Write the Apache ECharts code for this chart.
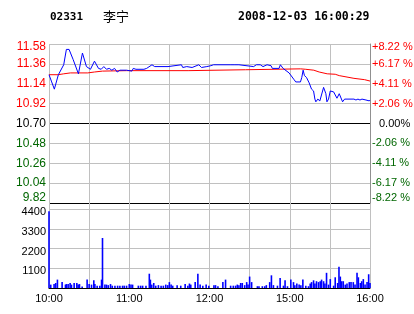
<!DOCTYPE html>
<html><head><meta charset="utf-8">
<script src="https://cdn.jsdelivr.net/npm/echarts@6/dist/echarts.min.js"></script>
<style>html,body{margin:0;padding:0;background:#fff}#c{width:414px;height:314px}</style>
</head><body><div id="c"></div>
<script>
const stockCode = '02331';
const stockName = '李宁';
const timestamp = '2008-12-03 16:00:29';
const prevClose = 10.70;
const timeLabels = {0:'10:00', 60:'11:00', 120:'12:00', 180:'15:00', 240:'16:00'};

// trading minutes since 10:00 (lunch break removed)
const priceMinutes = [0,2,4,7,11,13,15,18,22,25,28,31,34,35,37,39,41,43,45,47,49,51,53,58,62,63,65,71,73,77,79,89,90,99,100,103,107,112,114,118,121,123,136,137,139,140,142,143,153,155,156,158,160,163,166,167,172,173,175,176,179.5,183,184.5,188,189,190,191,192.5,194.5,196.3,197.8,198.8,199.5,201,202.5,203.5,205.3,206,207,207.8,209,210.3,211.3,212.8,213.8,215.3,217,218.3,219.5,221,228,229.5,231,232.5,234,237,239.5,240];
const priceValues  = [11.24,11.16,11.08,11.24,11.35,11.52,11.52,11.41,11.25,11.48,11.33,11.30,11.39,11.40,11.31,11.30,11.33,11.30,11.31,11.29,11.31,11.27,11.29,11.29,11.28,11.31,11.30,11.30,11.31,11.35,11.33,11.33,11.35,11.35,11.32,11.33,11.32,11.35,11.32,11.33,11.34,11.35,11.35,11.33,11.35,11.33,11.35,11.33,11.33,11.35,11.34,11.35,11.33,11.35,11.34,11.31,11.31,11.35,11.31,11.30,11.26,11.19,11.16,11.16,11.21,11.29,11.23,11.21,11.15,11.08,11.06,10.97,10.94,10.97,10.95,10.96,11.10,11.08,11.03,10.94,10.97,11.06,11.04,11.05,11.03,10.98,11.03,11.04,10.94,10.97,10.97,10.96,10.97,10.96,10.97,10.96,10.95,10.96];

const avgMinutes = [0,7,9,11,16,29,34,40,58,104,105,147,148,188,192,198,202,208,214,217,228,236,240];
const avgValues  = [11.24,11.24,11.245,11.25,11.26,11.26,11.27,11.28,11.285,11.285,11.295,11.295,11.305,11.305,11.30,11.29,11.27,11.25,11.245,11.23,11.20,11.185,11.17];

const volMinutes = [0,1.3,3.8,5,6.3,9.8,12.3,13,14.3,15.8,16.8,18.8,20.8,21.8,22.8,24.8,28.5,30,31.8,33.5,34.3,36,38,39.3,40,41.8,43,44.3,46,47.3,49.3,51.3,53,55,56.3,58,60,61.3,62.5,66.8,68.5,70,72.5,75,75.8,76.8,78.3,79.8,81.8,83.8,85.5,87.3,88.8,90,91.3,92.5,95.8,98.5,101.8,103.8,105,106,109.3,111.3,113,115,117.5,119.5,123.3,124.5,126.3,130,132,135.8,137.8,139.5,140.8,142,143.3,144.5,146.3,147.8,148.8,150,151.5,155.8,157,159.5,161.3,162.5,165,166.3,167.8,170.8,172.8,175.3,176.5,178.3,180.8,182.8,183.8,185.3,187,188.3,189.8,192,194,195.3,196.3,197.8,198.8,200,201.5,202.8,203.8,205.3,206.3,207.5,209,210.3,212.8,214,215.8,216.8,217.8,218.8,220,221.5,222.8,224.5,225.8,227.5,228.8,230.3,231.3,232.8,233.8,235,236.3,237.8,239,240];
const volValues  = [4300,190,220,280,470,330,190,220,220,280,190,280,280,190,220,90,470,220,190,430,220,130,130,470,2800,190,190,160,220,130,130,130,130,130,130,130,220,190,190,130,130,130,130,800,470,190,280,130,160,130,130,190,160,330,190,130,160,130,220,130,250,190,330,800,190,130,190,130,160,160,100,330,470,130,130,130,190,160,280,280,160,330,190,640,330,100,100,100,100,160,330,710,160,130,560,130,430,100,470,330,160,250,190,160,480,130,100,250,330,430,250,380,330,380,470,380,250,850,190,500,130,600,280,1190,640,380,380,190,250,330,330,330,190,850,600,280,380,500,190,330,770,280];

const RED = '#ff0000', GREEN = '#006600', BLACK = '#000000', GRAY = '#c0c0c0';
const LF = 'Liberation Sans';

const chg = v => +(v - prevClose).toFixed(4);
const priceData = priceMinutes.map((m, i) => [m, chg(priceValues[i])]);
const avgData = avgMinutes.map((m, i) => [m, chg(avgValues[i])]);
const volData = volMinutes.map((m, i) => [m, volValues[i]]);

const isZero = v => Math.abs(v) < 1e-9;
const richBase = (c, pad, fs) => ({color: c, fontFamily: LF, fontSize: fs || 12, padding: pad || [0,0,0,0]});

const chart = echarts.init(document.getElementById('c'), null, {renderer: 'canvas'});
chart.setOption({
  animation: false,
  backgroundColor: '#fff',
  graphic: [
    {type: 'text', x: 50, y: 17, style: {text: stockCode, font: 'bold 11px "DejaVu Sans Mono"', fill: '#000', verticalAlign: 'middle'}},
    {type: 'text', x: 103, y: 16, style: {text: stockName, font: '13px "Noto Sans CJK SC"', fill: '#000', verticalAlign: 'middle'}},
    {type: 'text', x: 238, y: 17, style: {text: timestamp, font: 'bold 11.5px "DejaVu Sans Mono"', fill: '#000', verticalAlign: 'middle'}}
  ],
  grid: [
    {left: 49, top: 44, width: 321, height: 159, containLabel: false, outerBoundsMode: 'none'},
    {left: 49, top: 203, width: 321, height: 85, containLabel: false, outerBoundsMode: 'none'}
  ],
  xAxis: [
    {type: 'value', gridIndex: 0, min: 0, max: 240, interval: 30,
     axisLabel: {show: false}, axisTick: {show: false}, axisLine: {show: false},
     splitLine: {show: true, lineStyle: {color: GRAY, width: 1}}},
    {type: 'value', gridIndex: 1, min: 0, max: 240, interval: 30,
     axisTick: {show: false}, axisLine: {show: true, lineStyle: {color: BLACK, width: 1}},
     splitLine: {show: true, lineStyle: {color: GRAY, width: 1}},
     axisLabel: {show: true, margin: 5, color: BLACK, fontFamily: LF, fontSize: 11,
       formatter: v => timeLabels[Math.round(v)] !== undefined && Math.abs(v - Math.round(v)) < 1e-6 ? timeLabels[Math.round(v)] : ''}}
  ],
  yAxis: [
    {type: 'value', gridIndex: 0, position: 'left', min: -0.88, max: 0.88, interval: 0.22,
     axisLine: {show: false}, axisTick: {show: false},
     splitLine: {show: true, lineStyle: {width: 1, color: [BLACK, GRAY, GRAY, GRAY, BLACK, GRAY, GRAY, GRAY, GRAY]}},
     axisLabel: {margin: 3, fontFamily: LF, fontSize: 12,
       formatter: v => {
         const t = (prevClose + v).toFixed(2);
         if (isZero(v)) return '{k|' + t + '}';
         if (v > 0.87) return '{rt|' + t + '}';
         if (v < -0.87) return '{gb|' + t + '}';
         return (v > 0 ? '{r|' : '{g|') + t + '}';
       },
       rich: {r: richBase(RED), g: richBase(GREEN), k: richBase(BLACK),
              rt: richBase(RED, [5,0,0,0]), gb: richBase(GREEN, [0,0,10,0])}}},
    {type: 'value', gridIndex: 0, position: 'right', min: -0.88, max: 0.88, interval: 0.22,
     axisLine: {show: true, lineStyle: {color: '#909090', width: 1}}, axisTick: {show: false},
     splitLine: {show: false},
     axisLabel: {margin: 2, fontFamily: LF, fontSize: 11,
       formatter: v => {
         const p = (Math.abs(v) / prevClose * 100).toFixed(2);
         if (isZero(v)) return '{k|0.00%}';
         const t = (v > 0 ? '+' : '-') + p + ' %';
         if (v > 0.87) return '{rt|' + t + '}';
         if (v < -0.87) return '{gb|' + t + '}';
         return (v > 0 ? '{r|' : '{g|') + t + '}';
       },
       rich: {r: richBase(RED, null, 11), g: richBase(GREEN, null, 11), k: richBase(BLACK, [0,0,0,7], 11),
              rt: richBase(RED, [5,0,0,0], 11), gb: richBase(GREEN, [0,0,10,0], 11)}}},
    {type: 'value', gridIndex: 1, min: 0, max: 4760, interval: 1100,
     axisLine: {show: false}, axisTick: {show: false},
     splitLine: {show: true, lineStyle: {width: 1, color: [BLACK, GRAY, GRAY, GRAY, GRAY, BLACK]}},
     axisLabel: {margin: 3, fontFamily: LF, fontSize: 11,
       formatter: v => (v > 0 && Math.abs(v % 1100) < 1e-6) ? '{v|' + v + '}' : '',
       rich: {v: {color: BLACK, fontFamily: LF, fontSize: 11, padding: [6,0,0,0]}}}}
  ],
  series: [
    {type: 'line', name: 'avg', xAxisIndex: 0, yAxisIndex: 0, data: avgData, symbol: 'none',
     lineStyle: {color: RED, width: 1}, z: 3},
    {type: 'line', name: 'price', xAxisIndex: 0, yAxisIndex: 0, data: priceData, symbol: 'none',
     lineStyle: {color: '#0000ff', width: 1}, z: 4},
    {type: 'bar', name: 'vol', xAxisIndex: 1, yAxisIndex: 2, data: volData, barWidth: 1.6,
     itemStyle: {color: '#0000ff'}}
  ]
});
</script>
</body></html>
